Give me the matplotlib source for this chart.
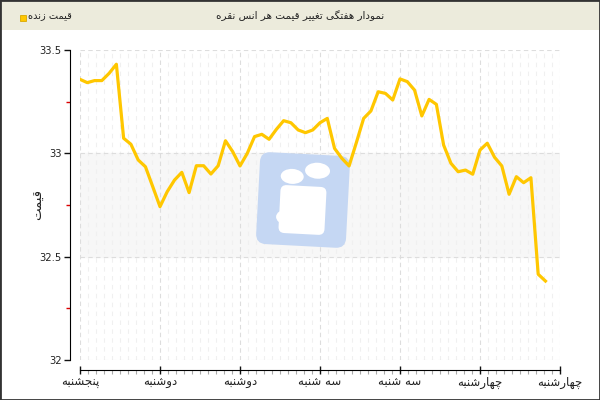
import numpy as np
import matplotlib
matplotlib.use("Agg")
import matplotlib.pyplot as plt
from matplotlib.patches import Rectangle, FancyBboxPatch, Ellipse
from matplotlib.ticker import MultipleLocator, FixedLocator
import matplotlib.transforms as mtrans

# data (silver ounce price, one value per step)
prices = [33.358, 33.342, 33.352, 33.352, 33.387, 33.431, 33.073, 33.044, 32.968, 32.935,
          32.839, 32.742, 32.815, 32.871, 32.908, 32.810, 32.940, 32.940, 32.900, 32.940,
          33.061, 33.008, 32.939, 33.000, 33.081, 33.092, 33.068, 33.116, 33.158, 33.148,
          33.113, 33.100, 33.113, 33.148, 33.169, 33.024, 32.976, 32.939, 33.052, 33.169,
          33.205, 33.298, 33.290, 33.258, 33.360, 33.347, 33.306, 33.181, 33.261, 33.237,
          33.040, 32.952, 32.911, 32.919, 32.899, 33.016, 33.049, 32.981, 32.939, 32.802,
          32.887, 32.858, 32.882, 32.415, 32.382]
day_labels = ["پنجشنبه", "دوشنبه", "دوشنبه", "سه شنبه", "سه شنبه", "چهارشنبه", "چهارشنبه"]
steps_per_day = 11
title_text = "نمودار هفتگی تغییر قیمت هر انس نقره"
legend_text = "قیمت زنده"
ylabel_text = "قیمت"

# minimal Persian shaping (matplotlib does not shape Arabic script)
FORMS = {
    "ا": ("\uFE8D", "\uFE8E", None, None),
    "ب": ("\uFE8F", "\uFE90", "\uFE91", "\uFE92"),
    "پ": ("\uFB56", "\uFB57", "\uFB58", "\uFB59"),
    "ت": ("\uFE95", "\uFE96", "\uFE97", "\uFE98"),
    "ج": ("\uFE9D", "\uFE9E", "\uFE9F", "\uFEA0"),
    "چ": ("\uFB7A", "\uFB7B", "\uFB7C", "\uFB7D"),
    "د": ("\uFEA9", "\uFEAA", None, None),
    "ر": ("\uFEAD", "\uFEAE", None, None),
    "ز": ("\uFEAF", "\uFEB0", None, None),
    "س": ("\uFEB1", "\uFEB2", "\uFEB3", "\uFEB4"),
    "ش": ("\uFEB5", "\uFEB6", "\uFEB7", "\uFEB8"),
    "غ": ("\uFECD", "\uFECE", "\uFECF", "\uFED0"),
    "ف": ("\uFED1", "\uFED2", "\uFED3", "\uFED4"),
    "ق": ("\uFED5", "\uFED6", "\uFED7", "\uFED8"),
    "گ": ("\uFB92", "\uFB93", "\uFB94", "\uFB95"),
    "م": ("\uFEE1", "\uFEE2", "\uFEE3", "\uFEE4"),
    "ن": ("\uFEE5", "\uFEE6", "\uFEE7", "\uFEE8"),
    "ه": ("\uFEE9", "\uFEEA", "\uFEEB", "\uFEEC"),
    "و": ("\uFEED", "\uFEEE", None, None),
    "ی": ("\uFBFC", "\uFBFD", "\uFBFE", "\uFBFF"),
}


def fa(text):
    out = []
    for i, ch in enumerate(text):
        if ch not in FORMS:
            out.append(ch)
            continue
        prev = text[i - 1] if i > 0 else ""
        nxt = text[i + 1] if i + 1 < len(text) else ""
        join_prev = prev in FORMS and FORMS[prev][2] is not None
        join_next = FORMS[ch][2] is not None and nxt in FORMS
        iso, fin, ini, med = FORMS[ch]
        if join_prev and join_next:
            out.append(med)
        elif join_prev:
            out.append(fin)
        elif join_next:
            out.append(ini)
        else:
            out.append(iso)
    return "".join(out)[::-1]


plt.rcParams["font.family"] = ["DejaVu Sans"]

fig = plt.figure(figsize=(6, 4), dpi=100)
ax = fig.add_axes([80 / 600, 40 / 400, 480 / 600, 310 / 400])

x = np.arange(len(prices))
ax.axhspan(32.5, 33.0, color="#f7f7f7", zorder=0)
ax.plot(x, prices, color="#ffc700", lw=2.3, solid_joinstyle="round", zorder=5)

xmax = steps_per_day * (len(day_labels) - 1)
ax.set_xlim(0, xmax)
ax.set_ylim(32, 33.5)

ax.xaxis.set_major_locator(FixedLocator(np.arange(0, xmax + 1, steps_per_day)))
ax.xaxis.set_minor_locator(MultipleLocator(steps_per_day / 10))
ax.set_xticklabels([fa(d) for d in day_labels])
ax.yaxis.set_major_locator(FixedLocator([32, 32.5, 33, 33.5]))
ax.yaxis.set_minor_locator(FixedLocator([32.25, 32.75, 33.25]))
ax.set_yticklabels(["32", "32.5", "33", "33.5"])

ax.grid(which="major", color="#dddddd", ls=(0, (4, 3)), lw=0.8)
ax.grid(which="minor", axis="x", color="#f0f0f0", ls=(0, (4, 4)), lw=0.8)
ax.set_axisbelow(True)

for s in ["top", "right"]:
    ax.spines[s].set_visible(False)
ax.spines["left"].set_position(("outward", 7.2))
ax.spines["bottom"].set_position(("outward", 7.2))
ax.spines["left"].set_bounds(32, 33.5)
ax.spines["bottom"].set_bounds(0, xmax)
ax.tick_params(axis="y", which="major", length=4, width=1, color="#111", pad=2,
               labelsize=7.2, labelcolor="#222")
ax.tick_params(axis="y", which="minor", length=3, width=1, color="#dd0000")
ax.tick_params(axis="x", which="major", length=6, direction="inout", width=1, color="#111",
               pad=1, labelsize=8.5, labelcolor="#222")
ax.tick_params(axis="x", which="minor", length=3, width=0.8, color="#aaaaaa")
fig.text(38 / 600, 1 - 205 / 400, fa(ylabel_text), rotation=90, ha="center", va="center",
         fontsize=9.5, color="#222")

# watermark logo behind the line
to_px = mtrans.Affine2D().rotate_deg_around(303, 200, -3).scale(0.01) + fig.dpi_scale_trans
logo = FancyBboxPatch((268, 164), 70, 72, boxstyle="round,pad=10", fc="#c5d7f3",
                      ec="none", transform=to_px, zorder=2)
ax.add_patch(logo)
ax.add_patch(Ellipse((291, 223), 23, 15, fc="white", ec="none", transform=to_px, zorder=3))
ax.add_patch(Ellipse((316, 230), 25, 16, fc="white", ec="none", transform=to_px, zorder=3))
ax.add_patch(FancyBboxPatch((286, 172), 34, 36, boxstyle="round,pad=6", fc="white",
                            ec="none", transform=to_px, zorder=3))
ax.add_patch(Ellipse((286, 182), 18, 14, fc="white", ec="none", transform=to_px, zorder=3))

# title bar and frame
fig.patches.append(Rectangle((0, 1 - 30 / 400), 1, 30 / 400, transform=fig.transFigure,
                             fc="#ecebdc", ec="none", zorder=0))
fig.patches.append(Rectangle((0, 0), 1, 1, transform=fig.transFigure, fill=False,
                             ec="#333333", lw=2, zorder=10))
fig.text(300 / 600, 1 - 16 / 400, fa(title_text), ha="center", va="center",
         fontsize=7.5, color="#222")
fig.patches.append(Rectangle((20 / 600, 1 - 21 / 400), 6 / 600, 6 / 400,
                             transform=fig.transFigure, fc="#ffc700", ec="#d9a800", lw=0.6))
fig.text(28 / 600, 1 - 16 / 400, fa(legend_text), ha="left", va="center",
         fontsize=7, color="#222")

fig.savefig("out.png", dpi=100)
